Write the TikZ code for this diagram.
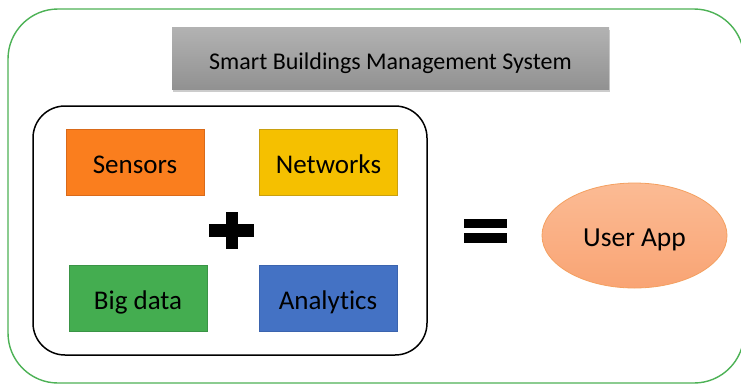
\documentclass[tikz,border=0pt]{standalone}
\usepackage{fontspec}
\setmainfont{Carlito}[Ligatures=NoCommon]
\usetikzlibrary{shapes.geometric,shadows}
\definecolor{outergreen}{HTML}{4DB256}
\definecolor{sensfill}{HTML}{FA7E1E}
\definecolor{sensline}{HTML}{D96A1A}
\definecolor{netfill}{HTML}{F5C000}
\definecolor{netline}{HTML}{C9A010}
\definecolor{bigfill}{HTML}{44AD50}
\definecolor{bigline}{HTML}{3A9446}
\definecolor{anafill}{HTML}{4472C4}
\definecolor{analine}{HTML}{3B64AE}
\definecolor{apptop}{HTML}{FBBB94}
\definecolor{appbot}{HTML}{F9A474}
\definecolor{appline}{HTML}{F4A060}
\tikzset{
  blockbox/.style={draw, line width=1pt, minimum width=138pt, minimum height=66pt,
    font=\fontsize{27}{31}\selectfont, inner sep=0pt, text height=23.5pt, text depth=1pt},
}
\begin{document}
\begin{tikzpicture}[x=1pt,y=-1pt]
\useasboundingbox (0,0) rectangle (741,384);
\fill[white] (0,0) rectangle (741,384);
% outer green frame
\draw[outergreen, line width=1.4pt, rounded corners=50pt] (8,9) rectangle (744,383);
% title box
\node[minimum width=437pt, minimum height=62pt, inner sep=0pt,
      top color=black!30, bottom color=black!43, draw=none,
      drop shadow={shadow xshift=1pt, shadow yshift=-2.5pt, opacity=0.4},
      text height=24pt, text depth=0.5pt,
      font=\fontsize{24}{28}\selectfont] (title) at (390.5,58) {Smart Buildings Management System};
% inner black frame
\draw[black, line width=1.5pt, rounded corners=32pt] (33,106) rectangle (427,355);
% four blocks
\node[blockbox, fill=sensfill, draw=sensline] (sensors) at (135,162) {Sensors};
\node[blockbox, fill=netfill, draw=netline] (networks) at (328.5,162) {Networks};
\node[blockbox, fill=bigfill, draw=bigline] (bigdata) at (138,298) {Big data};
\node[blockbox, fill=anafill, draw=analine] (analytics) at (328,298) {Analytics};
% plus
\fill[black] (209,224) rectangle (254,237);
\fill[black] (226,212) rectangle (238,249);
% equals
\fill[black] (464,219) rectangle (507,228);
\fill[black] (464,233) rectangle (507,243);
% user app
\node[ellipse, minimum width=185pt, minimum height=105pt, inner sep=0pt,
      top color=apptop, bottom color=appbot, draw=appline, line width=0.8pt,
      text height=23.5pt, text depth=1pt,
      font=\fontsize{27.5}{31}\selectfont] (app) at (634.5,235.5) {User App};
\end{tikzpicture}
\end{document}
